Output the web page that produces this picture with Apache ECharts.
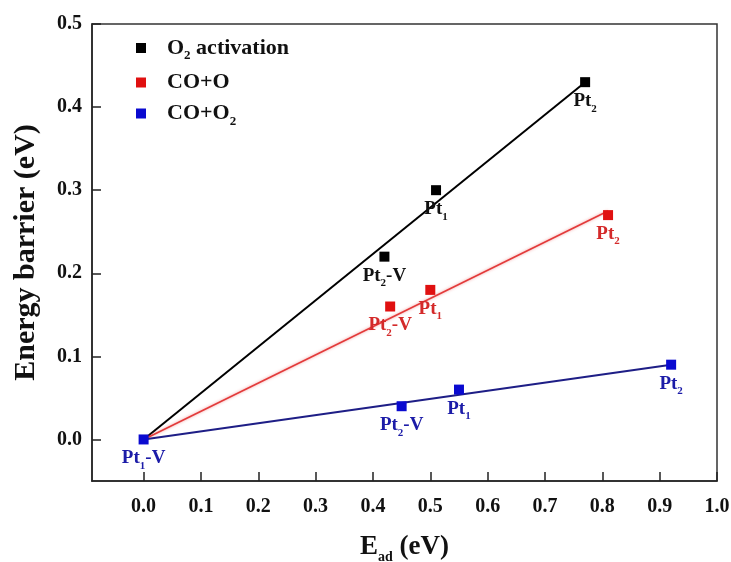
<!DOCTYPE html>
<html>
<head>
<meta charset="utf-8">
<script src="https://cdn.jsdelivr.net/npm/echarts@6/dist/echarts.min.js"></script>
<style>
  html, body { margin: 0; padding: 0; background: #fff; }
  #chart { width: 731px; height: 562px; }
</style>
</head>
<body>
<div id="chart"></div>
<script>
// values
var xTicks = [0.0, 0.1, 0.2, 0.3, 0.4, 0.5, 0.6, 0.7, 0.8, 0.9, 1.0];
var yTicks = [0.0, 0.1, 0.2, 0.3, 0.4, 0.5];

var o2Sites = ['Pt2-V', 'Pt1', 'Pt2'];
var o2X = [0.42, 0.51, 0.77];
var o2Y = [0.22, 0.30, 0.43];
var o2Fit = [[0.0, 0.0], [0.77, 0.43]];

var coOSites = ['Pt2-V', 'Pt1', 'Pt2'];
var coOX = [0.43, 0.50, 0.81];
var coOY = [0.16, 0.18, 0.27];
var coOFit = [[0.0, 0.0], [0.81, 0.275]];

var coO2Sites = ['Pt1-V', 'Pt2-V', 'Pt1', 'Pt2'];
var coO2X = [0.00, 0.45, 0.55, 0.92];
var coO2Y = [0.00, 0.04, 0.06, 0.09];
var coO2Fit = [[0.0, 0.0], [0.92, 0.09]];

var FONT = '"Liberation Serif", "Times New Roman", serif';

function richStyles(size, subSize, color) {
    return {
        a: { fontFamily: FONT, fontWeight: 'bold', fontSize: size, lineHeight: size + 7, color: color },
        s: { fontFamily: FONT, fontWeight: 'bold', fontSize: subSize, lineHeight: subSize, verticalAlign: 'bottom', color: color }
    };
}

// "Pt2-V" -> Pt with subscript 2, then -V
function siteText(name) {
    var m = name.match(/^Pt(\d)(.*)$/);
    var out = '{a|Pt}{s|' + m[1] + '}';
    if (m[2]) out += '{a|' + m[2] + '}';
    return out;
}

function points(xs, ys, names) {
    var list = [];
    for (var i = 0; i < xs.length; i++) {
        list.push({ name: names[i], value: [xs[i], ys[i]] });
    }
    return list;
}

function scatter(name, color, labelColor, xs, ys, names) {
    return {
        name: name,
        type: 'scatter',
        symbol: 'rect',
        symbolSize: 10,
        z: 5,
        itemStyle: { color: color, opacity: 1 },
        data: points(xs, ys, names),
        label: {
            show: true,
            position: 'bottom',
            distance: 1,
            formatter: function (p) { return siteText(p.name); },
            rich: richStyles(19, 11, labelColor)
        }
    };
}

function fitLine(data, color, width, glow) {
    var s = {
        type: 'line',
        data: data,
        symbol: 'none',
        silent: true,
        z: 2,
        lineStyle: { color: color, width: width }
    };
    if (glow) {
        s.lineStyle.shadowColor = glow;
        s.lineStyle.shadowBlur = 3;
    }
    return s;
}

var legendNames = {
    'O2 activation': '{a|O}{s|2}{a| activation}',
    'CO+O': '{a|CO+O}',
    'CO+O2': '{a|CO+O}{s|2}'
};

var chart = echarts.init(document.getElementById('chart'));

chart.setOption({
    animation: false,
    backgroundColor: '#fff',
    grid: {
        left: 92, right: 14, top: 24, bottom: 81,
        outerBoundsMode: 'none',
        containLabel: false,
        show: true, borderColor: '#333', borderWidth: 1.5
    },
    legend: {
        orient: 'vertical',
        left: 136,
        top: 37,
        padding: 0,
        itemGap: 9,
        itemWidth: 10,
        itemHeight: 10,
        icon: 'rect',
        data: ['O2 activation', 'CO+O', 'CO+O2'],
        formatter: function (n) { return legendNames[n]; },
        textStyle: {
            padding: [0, 0, 0, 16],
            rich: richStyles(22, 13, '#111')
        }
    },
    xAxis: {
        type: 'value',
        min: -0.09,
        max: 1.0,
        name: '{a|E}{s|ad}{a| (eV)}',
        nameLocation: 'middle',
        nameGap: 49,
        nameTextStyle: { rich: richStyles(27, 14, '#111') },
        axisLine: { show: true, onZero: false, lineStyle: { color: '#222', width: 1.5 } },
        axisTick: { show: true, inside: true, length: 9, customValues: xTicks, lineStyle: { color: '#222', width: 1.5 } },
        axisLabel: {
            customValues: xTicks,
            margin: 16,
            fontFamily: FONT, fontWeight: 'bold', fontSize: 20, color: '#111',
            formatter: function (v) { return v.toFixed(1); }
        },
        splitLine: { show: false }
    },
    yAxis: {
        type: 'value',
        min: -0.05,
        max: 0.5,
        name: 'Energy barrier (eV)',
        nameLocation: 'middle',
        nameGap: 51,
        nameTextStyle: { fontFamily: FONT, fontWeight: 'bold', fontSize: 30, color: '#111' },
        axisLine: { show: true, onZero: false, lineStyle: { color: '#222', width: 1.5 } },
        axisTick: { show: true, inside: true, length: 9, customValues: yTicks, lineStyle: { color: '#222', width: 1.5 } },
        axisLabel: {
            customValues: yTicks,
            margin: 10,
            fontFamily: FONT, fontWeight: 'bold', fontSize: 20, color: '#111',
            formatter: function (v) { return v.toFixed(1); }
        },
        splitLine: { show: false }
    },
    series: [
        fitLine(o2Fit, '#000', 2),
        fitLine(coOFit, '#e23a3a', 1.6, 'rgba(235,90,90,0.6)'),
        fitLine(coO2Fit, '#1e1e86', 2),
        scatter('O2 activation', '#000', '#111', o2X, o2Y, o2Sites),
        scatter('CO+O', '#e01010', '#d42a2a', coOX, coOY, coOSites),
        scatter('CO+O2', '#0a0ad0', '#1c1ca8', coO2X, coO2Y, coO2Sites)
    ]
});
</script>
</body>
</html>
